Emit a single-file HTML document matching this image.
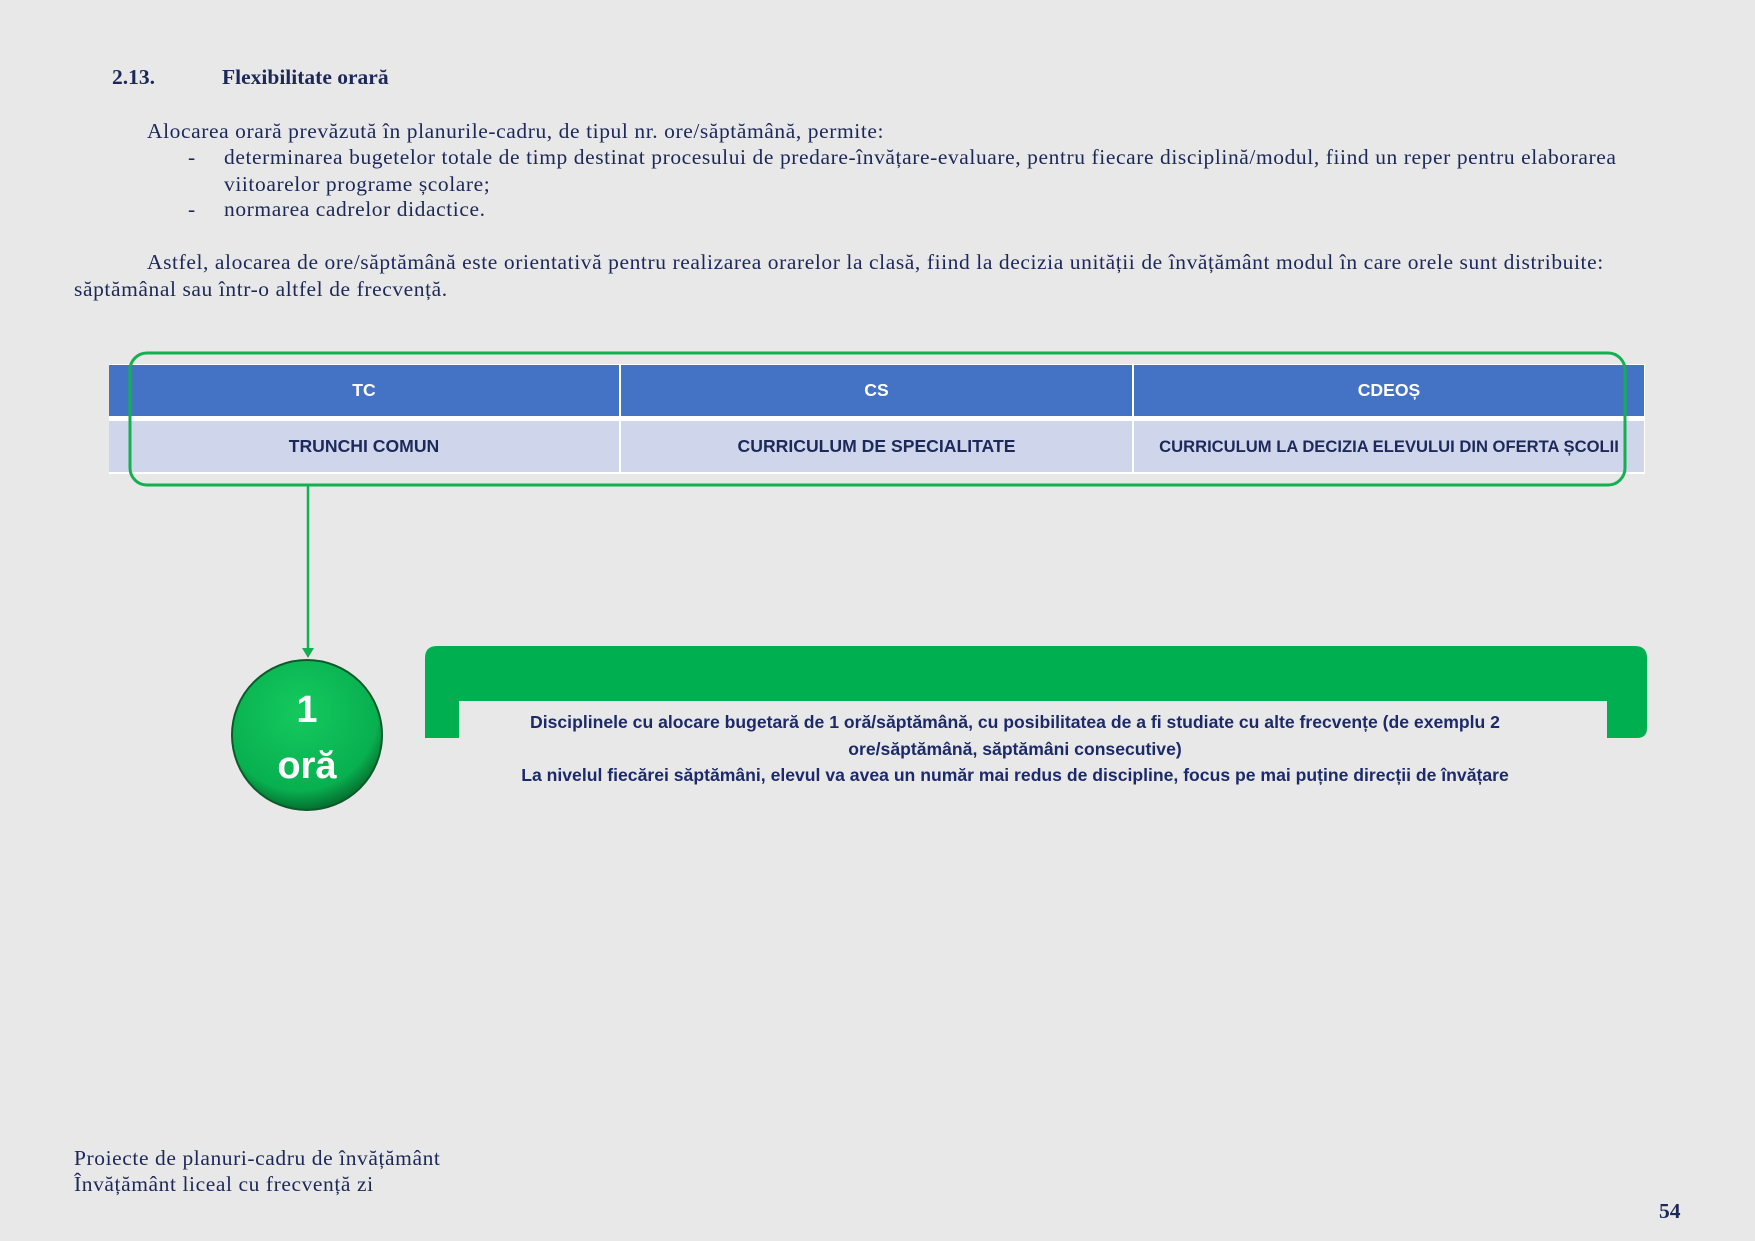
<!DOCTYPE html>
<html><head><meta charset="utf-8"><style>
body{margin:0;width:1755px;height:1241px;background:#e8e8e8;position:relative;overflow:hidden;font-family:"Liberation Serif",serif;color:#1c2858;}
.t{position:absolute;white-space:nowrap;font-size:21.5px;letter-spacing:0.58px;line-height:26px;}
.c{position:absolute;display:flex;align-items:center;justify-content:center;font-family:"Liberation Sans",sans-serif;font-weight:bold;font-size:17.6px;}
.g{position:absolute;font-family:"Liberation Sans",sans-serif;font-weight:bold;font-size:17.6px;color:#1c2a6a;text-align:center;left:402px;width:1226px;line-height:26.5px;white-space:nowrap;}
</style></head><body>
<div class="t" style="left:112px;top:64px;font-weight:bold;letter-spacing:0">2.13.</div>
<div class="t" style="left:222px;top:64px;font-weight:bold;letter-spacing:0">Flexibilitate orară</div>
<div class="t" style="left:147px;top:118px">Alocarea orară prevăzută în planurile-cadru, de tipul nr. ore/săptămână, permite:</div>
<div class="t" style="left:188px;top:144px">-</div>
<div class="t" style="left:224px;top:144px">determinarea bugetelor totale de timp destinat procesului de predare-învățare-evaluare, pentru fiecare disciplină/modul, fiind un reper pentru elaborarea</div>
<div class="t" style="left:224px;top:171px">viitoarelor programe școlare;</div>
<div class="t" style="left:188px;top:196px">-</div>
<div class="t" style="left:224px;top:196px">normarea cadrelor didactice.</div>
<div class="t" style="left:147px;top:249px">Astfel, alocarea de ore/săptămână este orientativă pentru realizarea orarelor la clasă, fiind la decizia unității de învățământ modul în care orele sunt distribuite:</div>
<div class="t" style="left:74px;top:276px">săptămânal sau într-o altfel de frecvență.</div>

<div style="position:absolute;left:109px;top:364px;width:1536px;height:110px;background:#fff"></div>
<div class="c" style="left:109px;top:365px;width:510px;height:51px;background:#4472c4;color:#fff">TC</div>
<div class="c" style="left:621px;top:365px;width:511px;height:51px;background:#4472c4;color:#fff">CS</div>
<div class="c" style="left:1134px;top:365px;width:510px;height:51px;background:#4472c4;color:#fff">CDEOȘ</div>
<div class="c" style="left:109px;top:421px;width:510px;height:51px;background:#cfd5ea;color:#1c2a5a">TRUNCHI COMUN</div>
<div class="c" style="left:621px;top:421px;width:511px;height:51px;background:#cfd5ea;color:#1c2a5a">CURRICULUM DE SPECIALITATE</div>
<div class="c" style="left:1134px;top:421px;width:510px;height:51px;background:#cfd5ea;color:#1c2a5a;white-space:nowrap;font-size:16.6px">CURRICULUM LA DECIZIA ELEVULUI DIN OFERTA ȘCOLII</div>

<svg style="position:absolute;left:0;top:0" width="1755" height="1241">
<defs><radialGradient id="rg" cx="45%" cy="35%" r="65%"><stop offset="0" stop-color="#14c95e"/><stop offset="0.8" stop-color="#08b050"/><stop offset="1" stop-color="#05702f"/></radialGradient></defs>
<rect x="130" y="353" width="1495" height="132" rx="17" fill="none" stroke="#12b050" stroke-width="3"/>
<line x1="308" y1="485" x2="308" y2="650" stroke="#12b050" stroke-width="2.5"/>
<polygon points="302,648 314,648 308,658" fill="#12b050"/>
<circle cx="307" cy="735" r="75" fill="url(#rg)" stroke="#0a5a2a" stroke-width="2"/>
<text x="307" y="722" fill="#fff" font-family="Liberation Sans,sans-serif" font-weight="bold" font-size="38" text-anchor="middle">1</text>
<text x="307" y="778" fill="#fff" font-family="Liberation Sans,sans-serif" font-weight="bold" font-size="38" text-anchor="middle">oră</text>
<path d="M425,738 L425,658 Q425,646 437,646 L1635,646 Q1647,646 1647,658 L1647,728 Q1647,738 1637,738 L1607,738 L1607,701 L459,701 L459,738 Z" fill="#00b050"/>
</svg>
<div class="g" style="top:709px">Disciplinele cu alocare bugetară de 1 oră/săptămână, cu posibilitatea de a fi studiate cu alte frecvențe (de exemplu 2<br>ore/săptămână, săptămâni consecutive)<br>La nivelul fiecărei săptămâni, elevul va avea un număr mai redus de discipline, focus pe mai puține direcții de învățare</div>

<div class="t" style="left:74px;top:1145px">Proiecte de planuri-cadru de învățământ</div>
<div class="t" style="left:74px;top:1171px">Învățământ liceal cu frecvență zi</div>
<div class="t" style="left:1659px;top:1198px;font-weight:bold;letter-spacing:0">54</div>
</body></html>
